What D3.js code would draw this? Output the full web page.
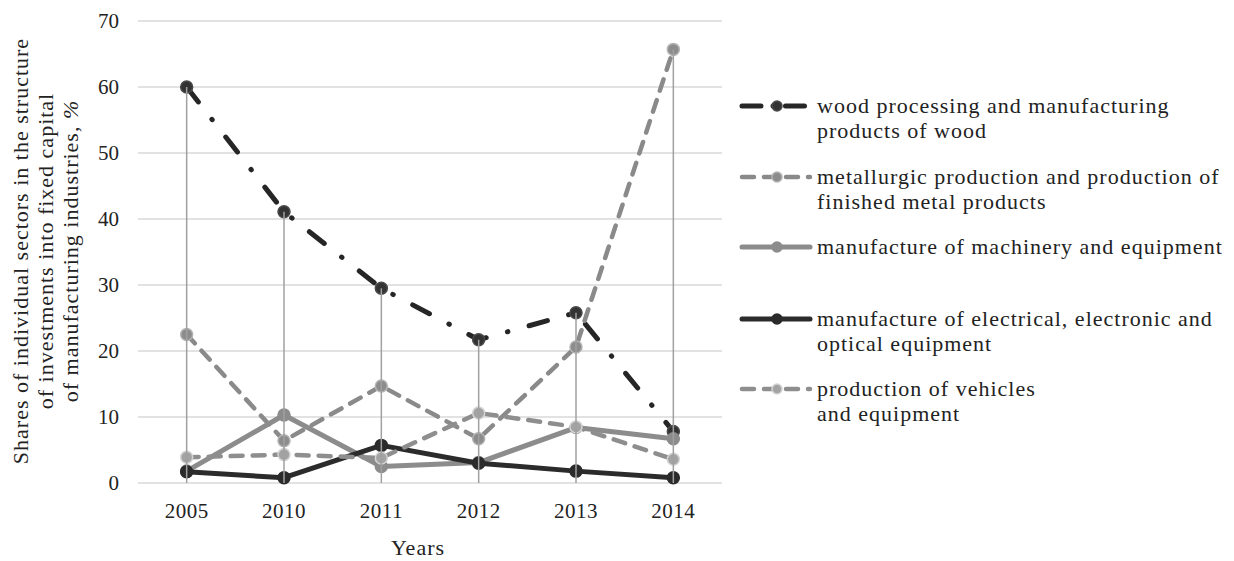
<!DOCTYPE html>
<html><head><meta charset="utf-8">
<script src="https://cdn.jsdelivr.net/npm/d3@7"></script>
<style>body{margin:0;background:#fff} svg{display:block}</style>
</head><body><svg id="c" width="1234" height="561"></svg>
<script>
const years = ["2005","2010","2011","2012","2013","2014"];
const woodValues = [60.0, 41.1, 29.5, 21.7, 25.8, 7.8];
const metalValues = [22.5, 6.4, 14.7, 6.7, 20.6, 65.7];
const machineryValues = [1.8, 10.3, 2.5, 3.1, 8.4, 6.7];
const electricalValues = [1.7, 0.8, 5.7, 3.0, 1.8, 0.8];
const vehiclesValues = [3.9, 4.3, 3.8, 10.6, 8.5, 3.6];
const yTicks = [0, 10, 20, 30, 40, 50, 60, 70];
const legendLabels = [
  ["wood processing and manufacturing", "products of wood"],
  ["metallurgic production and production of", "finished metal products"],
  ["manufacture of machinery and equipment"],
  ["manufacture of electrical, electronic and", "optical equipment"],
  ["production of vehicles", "and equipment"]
];
const yTitleLines = ["Shares of individual sectors in the structure", "of investments into fixed capital", "of manufacturing industries, "];
const xTitle = "Years";

const styles = [
  {color:"#262626", width:5, dash:"19,22,0.5,22", mfill:"#333", mstroke:"#4a4a4a"},
  {color:"#8a8a8a", width:4.5, dash:"12,10", mfill:"#8c8c8c", mstroke:"#b4b4b4"},
  {color:"#8c8c8c", width:5, dash:null, mfill:"#8c8c8c", mstroke:"#8c8c8c"},
  {color:"#2b2b2b", width:5, dash:null, mfill:"#2b2b2b", mstroke:"#2b2b2b"},
  {color:"#8e8e8e", width:4.5, dash:"12,10", mfill:"#a3a3a3", mstroke:"#d4d4d4"}
];
const seriesValues = [woodValues, metalValues, machineryValues, electricalValues, vehiclesValues];

const svg = d3.select("#c");
const font = "'Liberation Serif','Times New Roman',serif";
const x = d3.scaleBand().domain(years).range([138, 722]).padding(0);
const y = d3.scaleLinear().domain([0, 70]).range([483, 21]);
const cx = d => x(d) + x.bandwidth() / 2;

// gridlines
svg.append("g").selectAll("line").data(yTicks).join("line")
  .attr("x1", 138).attr("x2", 722)
  .attr("y1", d => y(d)).attr("y2", d => y(d))
  .attr("stroke", "#d9d9d9").attr("stroke-width", 1.5);

// y tick labels
svg.append("g").selectAll("text").data(yTicks).join("text")
  .attr("x", 119).attr("y", d => y(d) + 7)
  .attr("text-anchor", "end").attr("font-family", font).attr("font-size", 21)
  .attr("fill", "#222").text(d => d);

// x tick labels
svg.append("g").selectAll("text").data(years).join("text")
  .attr("x", d => cx(d)).attr("y", 518)
  .attr("text-anchor", "middle").attr("font-family", font).attr("font-size", 21)
  .attr("letter-spacing", 0.5)
  .attr("fill", "#222").text(d => d);

svg.append("text").attr("x", 418).attr("y", 555).attr("text-anchor", "middle")
  .attr("font-family", font).attr("font-size", 22).attr("letter-spacing", 1)
  .attr("fill", "#222").text(xTitle);

// y title
const yt = svg.append("g").attr("font-family", font).attr("font-size", 22)
  .attr("letter-spacing", 1).attr("fill", "#222");
yTitleLines.forEach((t, i) => {
  const tx = yt.append("text").attr("transform", `translate(${28 + i * 25},251) rotate(-90)`)
    .attr("text-anchor", "middle").text(t);
  if (i === 2) tx.append("tspan").attr("font-style", "italic").text("%");
});

// series
const line = d3.line().x((d, i) => cx(years[i])).y(d => y(d));
seriesValues.forEach((vals, s) => {
  const st = styles[s];
  svg.append("path").attr("d", line(vals)).attr("fill", "none")
    .attr("stroke", st.color).attr("stroke-width", st.width)
    .attr("stroke-linecap", "round").attr("stroke-linejoin", "round")
    .attr("stroke-dasharray", st.dash);
  svg.append("g").selectAll("circle").data(vals).join("circle")
    .attr("cx", (d, i) => cx(years[i])).attr("cy", d => y(d)).attr("r", 6)
    .attr("fill", st.mfill).attr("stroke", st.mstroke).attr("stroke-width", 1.5);
});

// drop lines (from highest point of each category to axis)
svg.append("g").selectAll("line").data(years).join("line")
  .attr("x1", d => cx(d)).attr("x2", d => cx(d))
  .attr("y1", (d, i) => y(d3.max(seriesValues, v => v[i])))
  .attr("y2", y(0))
  .attr("stroke", "#a0a0a0").attr("stroke-width", 1.5);

// legend
const legY = [106, 177, 247, 319, 389];
const lg = svg.append("g");
legendLabels.forEach((lines, s) => {
  const st = styles[s];
  const ly = legY[s];
  lg.append("line").attr("x1", 742).attr("x2", 810).attr("y1", ly).attr("y2", ly)
    .attr("stroke", st.color).attr("stroke-width", st.width)
    .attr("stroke-linecap", "round")
    .attr("stroke-dasharray", s === 0 ? "19,12,0.5,12" : st.dash);
  lg.append("circle").attr("cx", 777).attr("cy", ly).attr("r", 5)
    .attr("fill", st.mfill).attr("stroke", st.mstroke).attr("stroke-width", 1.5);
  lines.forEach((t, j) => {
    lg.append("text").attr("x", 817).attr("y", ly + 7 + j * 25)
      .attr("font-family", font).attr("font-size", 22).attr("letter-spacing", 1)
      .attr("fill", "#222").text(t);
  });
});
</script></body></html>
